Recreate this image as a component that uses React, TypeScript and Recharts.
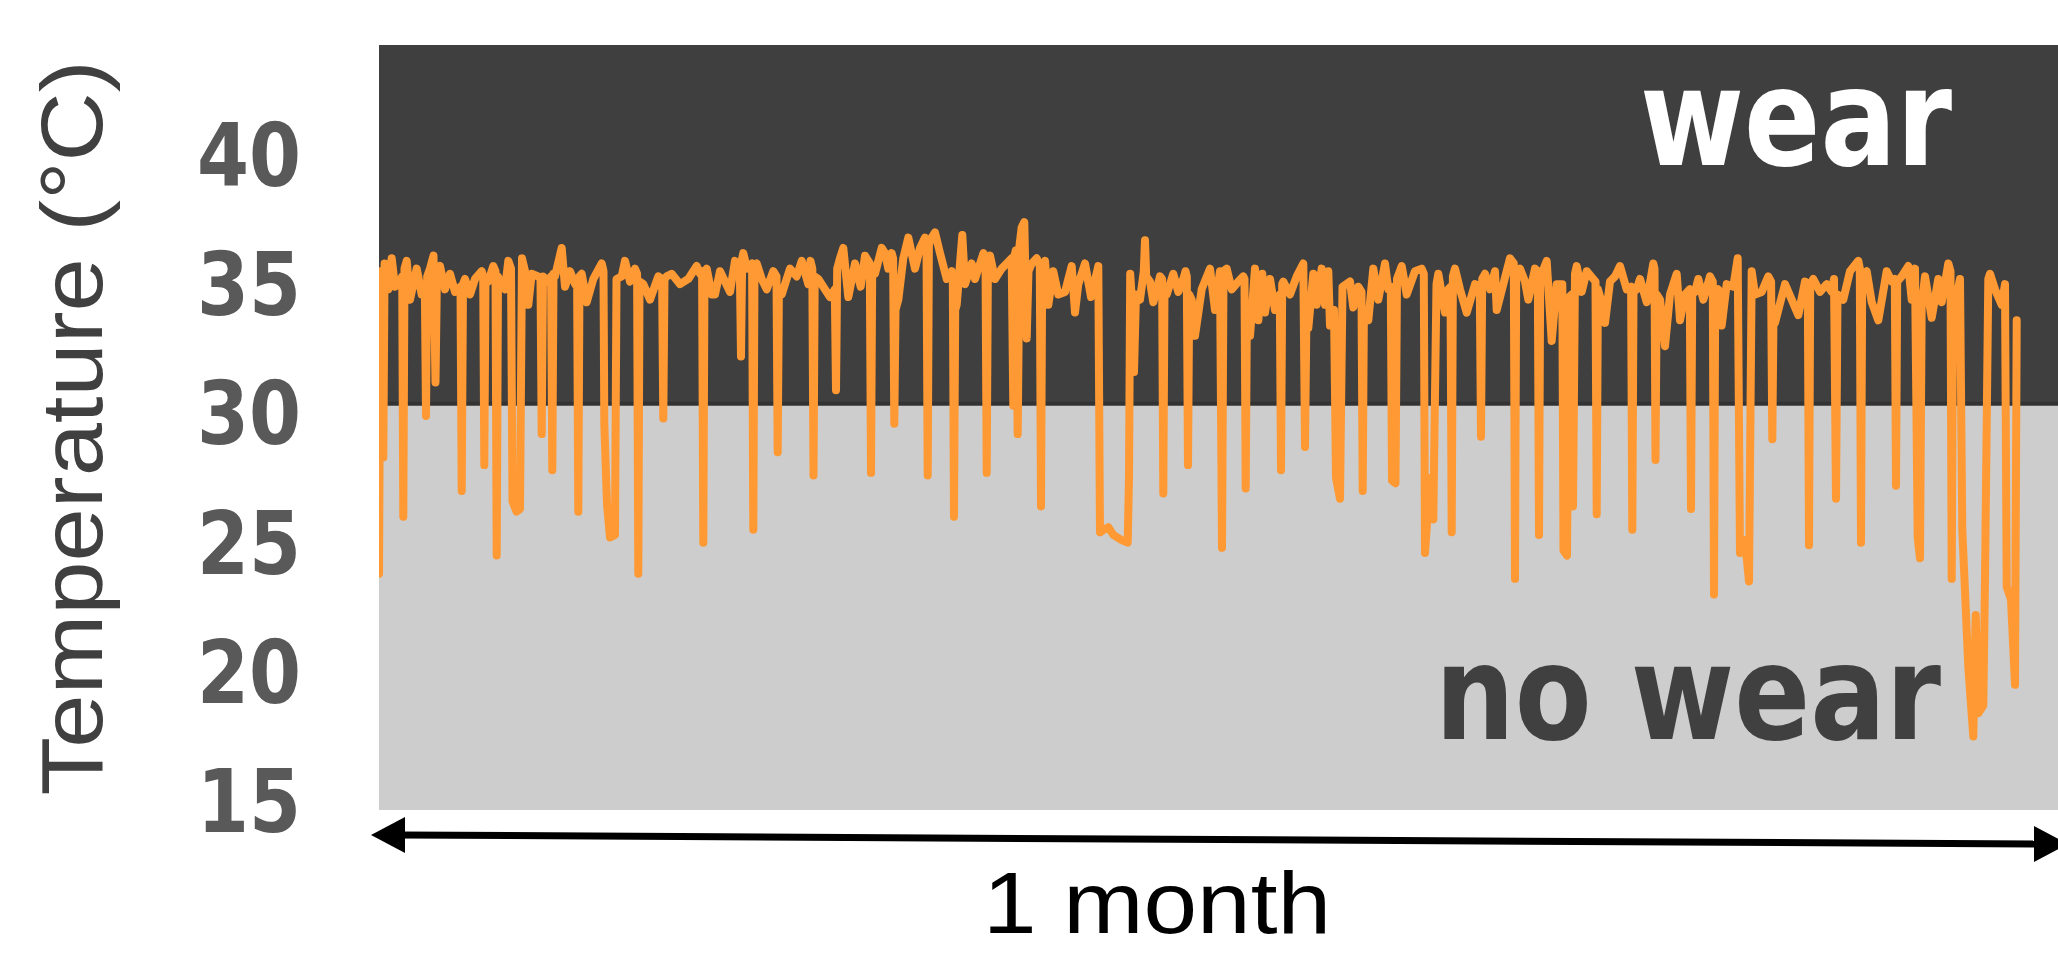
import { LineChart, Line, XAxis, YAxis, ReferenceArea, ReferenceLine } from 'recharts';

// sample index (~27 min per sample over one month), temperature in °C
const week1: [number, number][] = [
  [0, 23.8], [1.5, 35.5], [3, 35.4], [4.3, 28.3], [5.6, 35.8], [9.3, 34.8], [12.7, 36.0], [16, 34.9],
  [21, 35.1], [23.2, 35.3], [24.3, 26.0], [25.5, 35.6], [27.7, 35.9], [31, 34.4], [37.7, 35.6],
  [42.7, 34.6], [45.8, 35.0], [47, 29.9], [48.2, 35.3], [51, 35.6], [54.5, 36.1], [56.5, 31.2],
  [58, 35.5], [61, 35.7], [66, 34.8], [71, 35.4], [76, 34.7], [81.5, 34.9], [82.7, 27.0], [84, 35.0],
  [86, 35.2], [91, 34.6], [96, 35.2], [102.7, 35.5], [104.2, 35.3], [105.3, 28.0], [106.5, 35.2],
  [109.3, 35.1], [114.3, 35.7], [116.5, 35.5], [117.7, 24.5], [119, 35.3], [121, 35.1], [126, 34.8],
  [129.3, 35.9], [132, 35.6], [133.5, 26.6], [137.5, 26.2], [141, 26.3], [143, 36.0], [146, 35.5],
  [149.3, 34.2], [152.7, 35.4], [159.3, 35.3], [161.5, 35.2], [162.7, 29.2], [164, 35.3], [169.3, 35.1],
  [172.1, 35.3], [173.3, 27.8], [174.5, 35.4], [176, 35.3], [182.7, 36.4], [186, 34.9], [191, 35.5],
  [196, 35.0], [198.1, 35.2], [199.3, 26.2], [200.5, 35.3], [202.7, 35.4], [207.7, 34.3], [214.3, 35.2],
  [222.7, 35.8], [224.5, 35.5], [225.3, 29.6], [228, 26.5], [231, 25.2], [236, 25.3], [237.5, 35.2],
  [242.7, 35.3], [246, 35.9], [251, 35.1], [256, 35.6], [258.1, 35.4], [259.3, 23.8], [260.5, 35.1],
  [264.3, 35.0], [271, 34.4], [279.3, 35.3], [283.1, 35.2], [284.3, 29.8], [285.5, 35.2], [287.7, 35.3],
  [292.7, 35.4], [301, 35.0], [309.3, 35.2], [317.7, 35.7], [321, 35.4], [323.1, 35.5], [324.3, 25.0],
  [325.5, 35.4], [327.7, 35.6], [332.7, 34.6], [336, 34.6], [341, 35.5], [346, 35.1], [351, 34.7],
  [356, 35.9], [360.8, 35.7], [362, 32.2], [363.2, 36.0], [364.3, 36.2], [368, 35.6], [373.1, 35.8],
  [374.3, 25.5], [375.5, 35.7], [377.7, 35.8], [382.7, 35.2], [387.7, 34.8], [394.3, 35.5], [397.5, 35.3],
  [398.7, 28.5], [399.9, 34.8], [402.7, 34.6], [411, 35.6], [417.7, 35.3],
];

const week2: [number, number][] = [
  [422.7, 35.9], [429.3, 35.0], [431.5, 35.9], [433.3, 35.6], [434.5, 27.6], [435.7, 35.3], [439.3, 35.2],
  [444.3, 34.9], [451, 34.5], [455.8, 34.8], [457, 30.9], [458.2, 35.6], [461, 36.0], [464.3, 36.4],
  [469.3, 34.5], [476, 35.8], [481.7, 34.9], [486, 36.1], [490.8, 35.8], [492, 27.7], [493.2, 35.6],
  [496, 35.4], [502.7, 36.4], [506, 36.2], [509.3, 35.6], [512.7, 36.2], [514.1, 36.0], [515.3, 29.6],
  [516.5, 34.0], [519.3, 34.4], [524.3, 36.0], [529.3, 36.8], [536, 35.6], [541, 36.4], [546, 36.8],
  [547.5, 36.6], [548.7, 27.6], [549.9, 36.5], [551, 36.7], [556, 37.0], [561, 36.2], [567.7, 35.2],
  [572.7, 35.5], [573.8, 35.4], [575, 26.0], [576.2, 34.0], [577.7, 34.2], [583.3, 36.9], [586, 35.0],
  [592.7, 35.8], [596, 35.2], [604.5, 36.2], [606.5, 36.0], [607.7, 27.7], [608.9, 35.8], [611, 36.1],
  [616, 35.2], [622.7, 35.6], [632.7, 36.0], [634.3, 30.3], [635.5, 36.1], [636.7, 36.3], [638.7, 29.2],
  [640.5, 36.5], [642.7, 37.2], [645.3, 37.4], [647.7, 32.9], [649.5, 35.5], [652.7, 35.8], [657.7, 36.0],
  [660.8, 35.7], [662, 26.4], [663.2, 35.6], [666, 35.9], [669.3, 34.2], [674.3, 35.5], [679.3, 34.6],
  [686, 34.7], [692.7, 35.7], [696, 33.9], [699.3, 35.0], [706, 35.8], [712, 34.5], [719.3, 35.7],
  [721, 25.4], [725, 25.5], [729.3, 25.6], [734.3, 25.3], [742.7, 25.1], [748.7, 25.0], [750, 27.5],
  [751.2, 35.4], [753.5, 34.0], [755, 31.6], [757, 34.6], [761, 34.4], [764.8, 35.5], [766, 36.7],
  [767.2, 35.3], [771, 35.1], [774.3, 34.3], [781, 35.3], [783.1, 35.2], [784.3, 26.9], [785.5, 34.8],
  [787.7, 34.6], [794.3, 35.4], [799.3, 34.7], [804.3, 35.2], [806.5, 35.5], [807.8, 35.3], [809, 28.0],
  [810.2, 34.6], [812.7, 34.4], [816, 33.0], [822.7, 34.8], [831, 35.6], [836, 34.0],
];

const week3: [number, number][] = [
  [841, 35.5], [843, 24.8], [844.5, 35.5], [847.7, 35.6], [852.7, 34.8], [859.3, 35.1], [864.3, 35.3],
  [865.5, 35.2], [866.7, 27.1], [867.9, 34.0], [871, 33.0], [876, 35.6], [879.3, 33.6], [883.3, 35.4],
  [886, 33.9], [891, 35.2], [896, 34.0], [900.8, 34.6], [902, 27.8], [903.2, 35.0], [904.3, 35.1],
  [911, 34.6], [917.7, 35.3], [924.3, 35.8], [926, 28.7], [927.5, 34.0], [929.3, 33.3], [934.3, 35.4],
  [937.7, 34.2], [942.7, 35.6], [946, 34.2], [949.3, 35.5], [951, 33.4], [955, 34.0], [957, 27.5],
  [961, 26.7], [963.5, 34.9], [971, 35.1], [974.3, 34.1], [979.3, 34.9], [982.5, 34.7], [983.7, 27.0],
  [984.9, 34.0], [989.3, 33.6], [994.3, 35.6], [999.3, 34.4], [1006, 35.8], [1009.3, 34.8], [1011.8, 34.9],
  [1013, 27.4], [1016.5, 27.3], [1018, 35.2], [1022.7, 35.7], [1027.7, 34.6], [1036, 35.5], [1042.7, 35.6],
  [1044.8, 35.4], [1046, 24.6], [1051, 27.5], [1054.3, 25.9], [1057.5, 35.0], [1059.3, 35.4], [1066, 33.9],
  [1069.3, 34.8], [1071.5, 34.9], [1072.7, 25.4], [1073.9, 35.3], [1076, 35.6], [1081, 34.8], [1087.7, 33.9],
  [1096, 35.0], [1100.8, 34.9], [1102, 29.1], [1103.2, 35.2], [1106, 35.4], [1111, 34.8], [1116, 35.5],
  [1117.7, 34.0], [1124.3, 35.0], [1131, 36.0], [1134.8, 35.8], [1136, 23.6], [1137.2, 35.4], [1141, 35.6],
  [1146, 35.1], [1149.3, 34.4], [1156, 35.6], [1158.8, 35.5], [1160, 25.3], [1161.2, 35.3], [1162.7, 35.4],
  [1167.7, 35.9], [1172.7, 32.8], [1177.7, 35.0], [1183.3, 35.0], [1184.5, 24.7], [1188, 24.5], [1190, 34.5],
  [1192.8, 34.6], [1194, 26.4], [1196, 35.4], [1197.7, 35.7], [1202.7, 34.7], [1207.7, 35.5], [1214.3, 35.2],
  [1216.5, 35.1], [1217.7, 26.1], [1218.9, 34.8], [1222.7, 34.3], [1226, 33.5], [1231, 35.1], [1236, 35.3],
  [1241, 35.7], [1247.7, 34.8], [1252.1, 34.9], [1253.3, 25.5], [1254.5, 34.7], [1257.7, 34.8],
];

const week4: [number, number][] = [
  [1261, 35.2], [1267.7, 34.3], [1274.3, 35.8], [1275.5, 35.6], [1276.5, 28.2], [1277.7, 34.6], [1281, 34.4],
  [1286, 32.6], [1291, 34.6], [1297.7, 35.4], [1301, 33.6], [1306, 34.6], [1310.8, 34.8], [1312, 26.3],
  [1313.2, 34.6], [1316, 34.7], [1319.3, 35.2], [1324.3, 34.4], [1331, 35.3], [1333.8, 35.1], [1335, 23.0],
  [1336.2, 34.6], [1339.3, 34.8], [1342.7, 33.4], [1347.7, 35.0], [1354.3, 34.9], [1358.7, 36.0], [1361, 24.6],
  [1366, 25.1], [1370, 23.5], [1372.7, 35.5], [1376, 34.6], [1382.7, 34.7], [1389.3, 35.3], [1392.1, 35.1],
  [1393.3, 29.0], [1394.5, 33.8], [1396, 33.5], [1399.3, 34.0], [1406, 35.0], [1412.7, 34.4], [1419.3, 33.8],
  [1426, 35.1], [1428.8, 35.0], [1430, 24.9], [1431.2, 35.0], [1434.3, 35.2], [1441, 34.7], [1447.7, 35.0],
  [1452.7, 34.7], [1455, 35.2], [1457, 26.7], [1458.5, 34.6], [1464.3, 34.4], [1471, 35.5], [1479.3, 35.9],
  [1480.8, 35.6], [1482, 25.0], [1483.2, 35.3], [1487.7, 35.5], [1492.7, 34.3], [1499.3, 33.6], [1507.7, 35.5],
  [1512.7, 35.1], [1515.8, 35.2], [1517, 27.2], [1518.2, 35.1], [1522.7, 35.3], [1529.3, 35.7], [1532.7, 34.4],
  [1536, 35.6], [1538.7, 25.2], [1541, 24.4], [1542.7, 34.2], [1546, 35.3], [1552.7, 33.7], [1559.3, 35.2],
  [1562.7, 34.3], [1569.3, 35.8], [1571.5, 35.5], [1572.7, 23.6], [1574, 34.0], [1576, 34.2], [1581, 35.2],
  [1583.3, 25.5], [1589.3, 20.2], [1594.3, 17.5], [1596.7, 22.2], [1599.3, 18.4], [1604.3, 18.7], [1606, 23.6],
  [1609.3, 35.2], [1611, 35.4], [1616, 34.8], [1622.7, 34.2], [1626, 35.0], [1627.7, 23.3], [1632, 22.8],
  [1636, 19.5], [1637.7, 33.6],
];

const tempTicks = [15, 20, 25, 30, 35, 40];
const yDomain: [number, number] = [14.66, 44.25];
const wearThreshold = 30.37;
const monthSamples = 1679;

const data = [...week1, ...week2, ...week3, ...week4].map(([t, temp]) => ({ t, temp }));

function TempTick({ x, y, payload }: any) {
  return (
    <text
      x={x}
      y={y}
      dy={31}
      textAnchor="end"
      fontFamily="DejaVu Sans"
      fontWeight="bold"
      fontSize={87}
      fill="#595959"
      textLength={104}
      lengthAdjust="spacingAndGlyphs"
    >
      {payload.value}
    </text>
  );
}

export default function App() {
  return (
    <div style={{ position: 'absolute', left: 0, top: 0, width: 2058, height: 953, background: '#fff', overflow: 'hidden' }}>
      <LineChart width={2058} height={953} data={data} margin={{ top: 45, right: 0, bottom: 143, left: 229 }}>
        <XAxis dataKey="t" type="number" domain={[0, monthSamples]} hide allowDataOverflow />
        <YAxis
          type="number"
          domain={yDomain}
          ticks={tempTicks}
          width={150}
          allowDataOverflow
          axisLine={false}
          tickLine={false}
          tickSize={0}
          tickMargin={78}
          tick={<TempTick />}
        />
        <ReferenceArea y1={wearThreshold} y2={yDomain[1]} fill="#3f3f3f" fillOpacity={1} stroke="none" />
        <ReferenceArea y1={yDomain[0]} y2={wearThreshold} fill="#cdcdcd" fillOpacity={1} stroke="none" />
        <ReferenceLine y={wearThreshold} stroke="#333333" strokeWidth={4} />
        <Line
          type="linear"
          dataKey="temp"
          stroke="#ff9933"
          strokeWidth={8}
          strokeLinejoin="round"
          strokeLinecap="round"
          dot={false}
          activeDot={false}
          isAnimationActive={false}
        />
      </LineChart>
      <svg width={2058} height={953} style={{ position: 'absolute', left: 0, top: 0, pointerEvents: 'none' }}>
        <text
          transform="translate(102, 428) rotate(-90)"
          textAnchor="middle"
          fontFamily="Liberation Sans, Arial, sans-serif"
          fontSize={88}
          fill="#404040"
          textLength={735}
          lengthAdjust="spacingAndGlyphs"
        >
          Temperature (°C)
        </text>
        <text x={1640} y={165} fontFamily="DejaVu Sans" fontWeight="bold" fontSize={136} fill="#ffffff" textLength={312} lengthAdjust="spacingAndGlyphs">
          wear
        </text>
        <text x={1435} y={739} fontFamily="DejaVu Sans" fontWeight="bold" fontSize={132} fill="#404040" textLength={506} lengthAdjust="spacingAndGlyphs">
          no wear
        </text>
        <line x1={400} y1={835} x2={2040} y2={844} stroke="#000" strokeWidth={7} />
        <polygon points="371,835 405,817 405,853" fill="#000" />
        <polygon points="2034,826 2068,844 2034,862" fill="#000" />
        <text x={983} y={933} fontFamily="Liberation Sans, Arial, sans-serif" fontSize={88} fill="#000" textLength={348} lengthAdjust="spacingAndGlyphs">
          1 month
        </text>
      </svg>
    </div>
  );
}
